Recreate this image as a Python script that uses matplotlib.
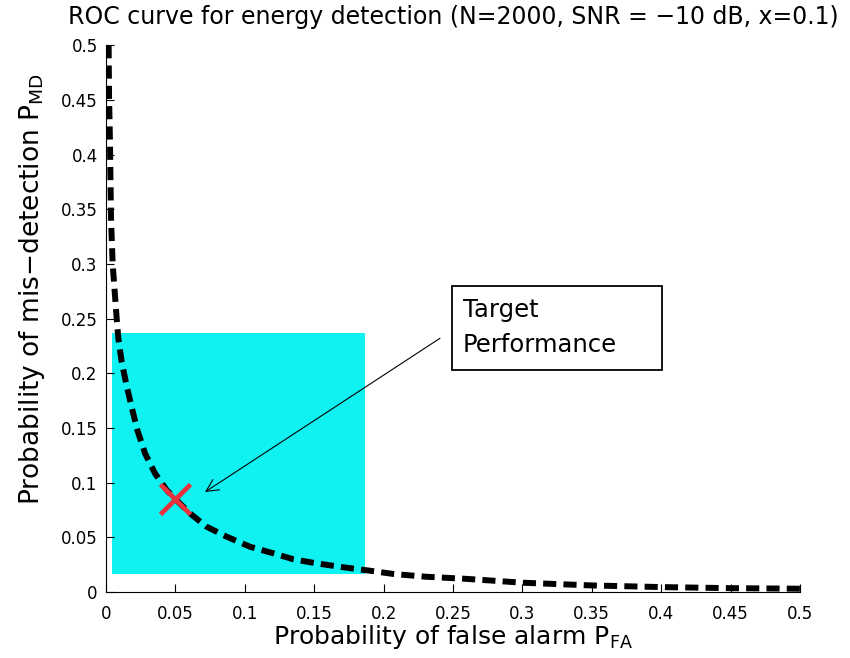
import matplotlib
matplotlib.use('Agg')
import matplotlib.pyplot as plt
from matplotlib.patches import Rectangle

# ROC points (false alarm vs mis-detection)
pfa = [0.0019, 0.0022, 0.0029, 0.0036, 0.0048, 0.0077, 0.0089, 0.0113, 0.0148,
       0.0185, 0.0226, 0.0281, 0.0353, 0.0437, 0.050, 0.0605, 0.0725, 0.0869,
       0.1037, 0.1205, 0.135, 0.1517, 0.171, 0.190, 0.207, 0.23, 0.26, 0.30,
       0.35, 0.40, 0.45, 0.50]
pmd = [0.500, 0.453, 0.409, 0.342, 0.300, 0.250, 0.232, 0.2105, 0.189,
       0.169, 0.148, 0.1268, 0.1085, 0.0932, 0.085, 0.0719, 0.0597, 0.0506,
       0.0414, 0.0354, 0.0299, 0.0262, 0.0226, 0.0195, 0.0165, 0.014, 0.012, 0.0085,
       0.0060, 0.0045, 0.0035, 0.0030]

# target region, target point, annotation
region_x = [0.0043, 0.1866]
region_y = [0.0165, 0.237]
target = (0.05, 0.085)
arrow_head = (0.0713, 0.0914)
arrow_tail = (0.2406, 0.232)
box_x = [0.2493, 0.4006]
box_y = [0.2029, 0.2797]
box_lines = ['Target', 'Performance']
ticks = [0, 0.05, 0.1, 0.15, 0.2, 0.25, 0.3, 0.35, 0.4, 0.45, 0.5]

plt.rcParams['font.family'] = ['DejaVu Sans']

fig = plt.figure(figsize=(8.5, 6.58), dpi=100)
ax = fig.add_axes([0.1247, 0.1003, 0.8165, 0.831])

ax.add_patch(Rectangle((region_x[0], region_y[0]), region_x[1] - region_x[0],
                       region_y[1] - region_y[0], color='#10f2f2', lw=0, zorder=1))
ax.plot(pfa, pmd, color='black', lw=4.3, ls=(0, (2.2, 1.2)), zorder=2)
ax.plot(*target, marker='x', color='#e8323c', markersize=21, mew=3.4, zorder=3)

ax.annotate('', xy=arrow_head, xytext=arrow_tail,
            arrowprops=dict(arrowstyle='->', lw=0.8, color='black',
                            mutation_scale=22, shrinkA=0, shrinkB=0))

# text box
ax.add_patch(Rectangle((box_x[0], box_y[0]), box_x[1] - box_x[0], box_y[1] - box_y[0],
                       fc='white', ec='black', lw=1.3, zorder=4))
ax.text(0.2572, 0.2514, box_lines[0], fontsize=17.5, va='baseline', zorder=5)
ax.text(0.2572, 0.2194, box_lines[1], fontsize=17.5, va='baseline', zorder=5)

ax.set_xlim(0, 0.5)
ax.set_ylim(0, 0.5)
ax.set_xticks(ticks)
ax.set_yticks(ticks)
ax.set_xticklabels([f'{t:g}' for t in ticks])
ax.set_yticklabels([f'{t:g}' for t in ticks])
ax.tick_params(direction='in', length=6, labelsize=12)
ax.tick_params(axis='x', pad=9)
ax.tick_params(axis='y', pad=6)
ax.spines['top'].set_visible(False)
ax.spines['right'].set_visible(False)

ax.set_title('ROC curve for energy detection (N=2000, SNR = \u221210 dB, x=0.1)',
             fontsize=17, pad=15)
ax.set_xlabel('Probability of false alarm P$_{\\mathrm{FA}}$', fontsize=18, labelpad=0)
ax.set_ylabel('Probability of mis\u2212detection P$_{\\mathrm{MD}}$', fontsize=19)
ax.yaxis.set_label_coords(-0.085, 0.554)

fig.savefig('out.png', dpi=100)
